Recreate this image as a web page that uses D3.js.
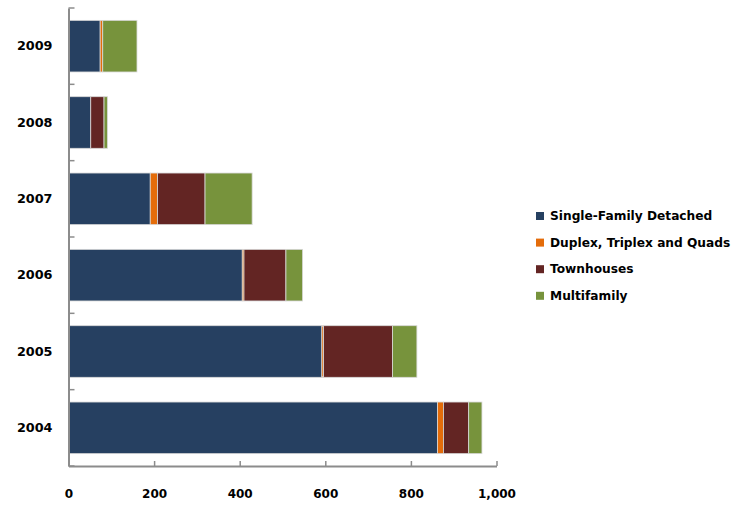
<!DOCTYPE html>
<html>
<head>
<meta charset="utf-8">
<script src="https://cdn.jsdelivr.net/npm/d3@7"></script>
<style>
  html, body { margin: 0; padding: 0; background: #ffffff; }
  svg { display: block; }
  text { font-family: "DejaVu Sans", sans-serif; font-weight: bold; fill: #000; }
</style>
</head>
<body>
<svg id="chart" width="752" height="505"></svg>
<script>
// Housing units by type, 2004–2009
const years = ["2004", "2005", "2006", "2007", "2008", "2009"];
const seriesNames = ["Single-Family Detached", "Duplex, Triplex and Quads", "Townhouses", "Multifamily"];
const singleFamily = [862, 592, 406, 191, 52, 74];
const duplexQuads  = [14, 4, 4, 17, 0, 6];
const townhouses   = [59, 161, 98, 111, 31, 0];
const multifamily  = [31, 57, 39, 110, 8, 80];
const xTicks = [0, 200, 400, 600, 800, 1000];
const colors = ["#264061", "#E46C0A", "#632523", "#77933C"];

const keys = ["sf", "dq", "th", "mf"];
const rows = years.map((yr, i) => ({
  year: yr, sf: singleFamily[i], dq: duplexQuads[i], th: townhouses[i], mf: multifamily[i]
}));

const svg = d3.select("#chart");
const plotLeft = 68.5, plotRight = 496.5, plotTop = 8, plotBottom = 466;

const x = d3.scaleLinear().domain([0, 1000]).range([plotLeft, plotRight]);
const y = d3.scaleBand()
  .domain(years.slice().reverse())
  .range([plotTop, plotBottom])
  .paddingInner(0.324)
  .paddingOuter(0.162);
const color = d3.scaleOrdinal().domain(keys).range(colors);

const stacked = d3.stack().keys(keys)(rows);

// Stacked bars
svg.append("g")
  .selectAll("g")
  .data(stacked)
  .join("g")
  .attr("fill", d => color(d.key))
  .selectAll("rect")
  .data(d => d.filter(s => s[1] - s[0] > 0))
  .join("rect")
  .attr("x", d => x(d[0]))
  .attr("y", d => y(d.data.year))
  .attr("width", d => x(d[1]) - x(d[0]))
  .attr("height", y.bandwidth())
  .attr("stroke", "#d9d9d9")
  .attr("stroke-width", 0.8);

// Horizontal value axis
const xAxis = svg.append("g")
  .attr("transform", `translate(0,${plotBottom})`)
  .call(d3.axisBottom(x)
    .tickValues(xTicks)
    .tickFormat(d3.format(","))
    .tickSizeInner(-5)
    .tickSizeOuter(0)
    .tickPadding(23));
xAxis.select(".domain").attr("stroke", "#8c8c8c").attr("stroke-width", 2);
xAxis.selectAll(".tick line").attr("stroke", "#8c8c8c").attr("stroke-width", 1.5);
xAxis.selectAll(".tick text")
  .style("font-size", "12px")
  .style("font-family", "'DejaVu Sans', sans-serif")
  .style("font-weight", "bold")
  .attr("fill", "#000");

// Category axis
const yAxis = svg.append("g")
  .attr("transform", `translate(${plotLeft},0)`)
  .call(d3.axisLeft(y).tickSize(0).tickPadding(16));
yAxis.select(".domain").attr("stroke", "#8c8c8c").attr("stroke-width", 2);
yAxis.selectAll(".tick text")
  .style("font-size", "12.8px")
  .style("font-family", "'DejaVu Sans', sans-serif")
  .style("font-weight", "bold")
  .attr("fill", "#000");

// Boundary tick marks between categories
const gap = y.step() * y.paddingInner() / 2;
const boundaries = y.domain().map(d => y(d) - gap).concat([plotBottom]);
svg.append("g")
  .selectAll("line")
  .data(boundaries)
  .join("line")
  .attr("x1", plotLeft)
  .attr("x2", plotLeft + 6)
  .attr("y1", d => d)
  .attr("y2", d => d)
  .attr("stroke", "#8c8c8c")
  .attr("stroke-width", 1.5);

// Legend
const legend = svg.append("g").attr("transform", "translate(536,216)");
const item = legend.selectAll("g")
  .data(seriesNames)
  .join("g")
  .attr("transform", (d, i) => `translate(0,${i * 26.6})`);
item.append("rect")
  .attr("x", 0).attr("y", -4)
  .attr("width", 8).attr("height", 8)
  .attr("fill", (d, i) => colors[i]);
item.append("text")
  .attr("x", 14)
  .attr("dy", "0.35em")
  .style("font-size", "12.2px")
  .text(d => d);
</script>
</body>
</html>
